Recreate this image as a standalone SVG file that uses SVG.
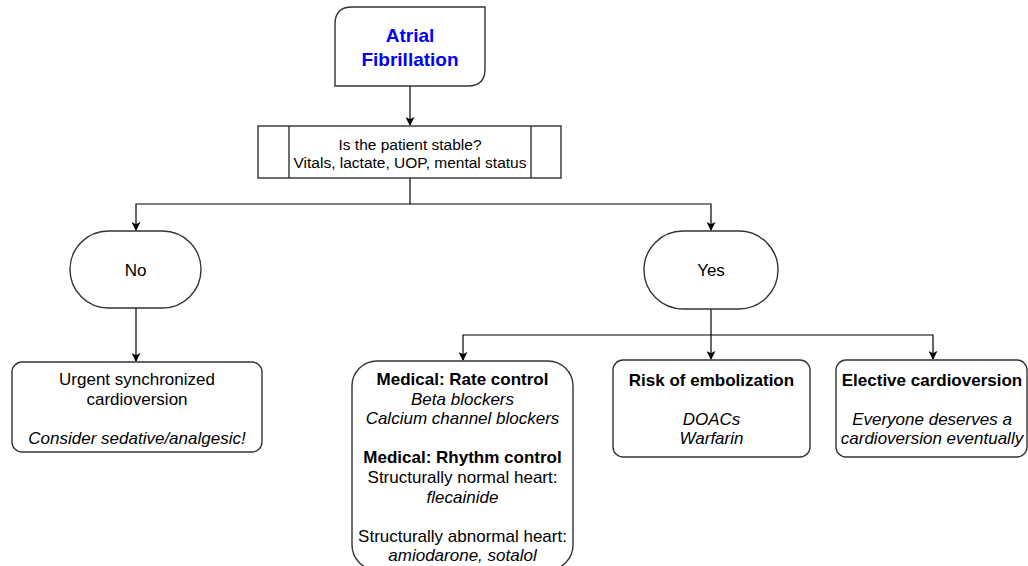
<svg xmlns="http://www.w3.org/2000/svg" width="1028" height="566" viewBox="0 0 1028 566">
<defs>
<style>
.box{fill:#fff;stroke:#333;stroke-width:1.4}
.t{font-family:"Liberation Sans",Arial,sans-serif;font-size:17px;fill:#000;text-anchor:middle}
.b{font-weight:bold}
.i{font-style:italic}
.edge{fill:none;stroke:#000;stroke-width:1.2}
</style>
<marker id="arr" viewBox="0 0 10 10" refX="9" refY="5" markerWidth="9" markerHeight="9" markerUnits="userSpaceOnUse" orient="auto">
<path d="M0,0 L10,5 L0,10 L2.5,5 Z" fill="#000"/>
</marker>
</defs>
<rect width="1028" height="566" fill="#fff"/>
<g id="connectors">
<path class="edge" d="M410,86 V125" marker-end="url(#arr)"/>
<path class="edge" d="M410,178 V204 H136 V230" marker-end="url(#arr)"/>
<path class="edge" d="M410,204 H711 V230" marker-end="url(#arr)"/>
<path class="edge" d="M136,308 V361" marker-end="url(#arr)"/>
<path class="edge" d="M711,309 V359" marker-end="url(#arr)"/>
<path class="edge" d="M711,335 H463 V360" marker-end="url(#arr)"/>
<path class="edge" d="M711,335 H933 V359" marker-end="url(#arr)"/>
</g>
<g id="af">
<path class="box" d="M352,7 H485 V69 Q485,86 468,86 H335 V24 Q335,7 352,7 Z"/>
<text class="t b" style="font-size:19px;fill:#0000FF" x="410" y="42">Atrial</text>
<text class="t b" style="font-size:19px;fill:#0000FF" x="410" y="66">Fibrillation</text>
</g>
<g id="stable">
<rect class="box" x="258" y="126" width="303" height="52"/>
<line class="box" x1="289" y1="126" x2="289" y2="178"/>
<line class="box" x1="531" y1="126" x2="531" y2="178"/>
<text class="t" style="font-size:15.5px" x="410" y="149.5">Is the patient stable?</text>
<text class="t" style="font-size:15.5px" x="410" y="167.5">Vitals, lactate, UOP, mental status</text>
</g>
<g id="no">
<rect class="box" x="70" y="231" width="131" height="77" rx="38.5"/>
<text class="t" x="135.5" y="276">No</text>
</g>
<g id="yes">
<rect class="box" x="644" y="231" width="134" height="78" rx="39"/>
<text class="t" x="711" y="276">Yes</text>
</g>
<g id="urgent">
<rect class="box" x="12" y="362" width="250" height="90" rx="10"/>
<text class="t" x="137" y="385">Urgent synchronized</text>
<text class="t" x="137" y="405">cardioversion</text>
<text class="t i" x="137" y="444">Consider sedative/analgesic!</text>
</g>
<g id="medical">
<rect class="box" x="352" y="361" width="221" height="209" rx="25"/>
<text class="t b" x="462.5" y="385">Medical: Rate control</text>
<text class="t i" x="462.5" y="404.6">Beta blockers</text>
<text class="t i" x="462.5" y="424.2">Calcium channel blockers</text>
<text class="t b" x="462.5" y="463.4">Medical: Rhythm control</text>
<text class="t" x="462.5" y="483">Structurally normal heart:</text>
<text class="t i" x="462.5" y="502.6">flecainide</text>
<text class="t" x="462.5" y="542">Structurally abnormal heart:</text>
<text class="t i" x="462.5" y="561.4">amiodarone, sotalol</text>
</g>
<g id="risk">
<rect class="box" x="613" y="360" width="197" height="97" rx="10"/>
<text class="t b" x="711.5" y="386">Risk of embolization</text>
<text class="t i" x="711.5" y="425">DOACs</text>
<text class="t i" x="711.5" y="444">Warfarin</text>
</g>
<g id="elective">
<rect class="box" x="836" y="360" width="191" height="97" rx="10"/>
<text class="t b" x="932" y="386">Elective cardioversion</text>
<text class="t i" x="932" y="425">Everyone deserves a</text>
<text class="t i" x="932" y="444">cardioversion eventually</text>
</g>
</svg>
